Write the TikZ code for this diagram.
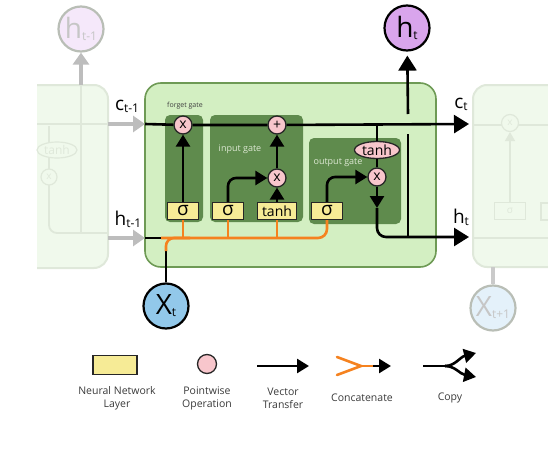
\documentclass[tikz,border=0pt]{standalone}
\usepackage{fontspec}
\setmainfont{Open Sans}
\usepackage{tikz}
\usetikzlibrary{arrows.meta,shapes.geometric}

\definecolor{cellgreen}{HTML}{D3EFC2}
\definecolor{cellborder}{HTML}{6E9A55}
\definecolor{gategreen}{HTML}{5F8B4D}
\definecolor{gatetext}{HTML}{DDE8D3}
\definecolor{layeryellow}{HTML}{F6EB96}
\definecolor{oppink}{HTML}{F8C6CC}
\definecolor{catorange}{HTML}{F5821F}
\definecolor{htviolet}{HTML}{D9A5EC}
\definecolor{xtblue}{HTML}{92C8EA}
\definecolor{ghostfill}{HTML}{F0F9EC}
\definecolor{ghostline}{HTML}{DFE8DA}
\definecolor{ghostarrow}{HTML}{BDBDBD}
\definecolor{ghosttext}{HTML}{C6C6C6}
\definecolor{legendgrey}{HTML}{3A3A3A}

\newcommand{\subtxt}[2]{#1\raisebox{-2pt}{\fontsize{12}{12}\selectfont #2}}

\tikzset{
  cellbox/.style={fill=cellgreen, draw=cellborder, line width=1.6pt, rounded corners=16pt},
  gatebox/.style={fill=gategreen, rounded corners=5pt},
  ghostbox/.style={fill=ghostfill, draw=ghostline, line width=2pt, rounded corners=14pt},
  layer/.style={rectangle, draw=black!85, line width=1.3pt, fill=layeryellow, minimum width=31pt, minimum height=17pt, inner sep=0pt, font=\fontsize{19}{19}\selectfont},
  pointop/.style={circle, draw=black!85, line width=1.3pt, fill=oppink, minimum size=18pt, inner sep=0pt, font=\fontsize{14}{14}\selectfont},
  tanhop/.style={ellipse, draw=black!85, line width=1.3pt, fill=oppink, minimum width=45pt, minimum height=17pt, inner sep=0pt, font=\fontsize{14}{14}\selectfont},
  wire/.style={line width=2.6pt},
  vec/.style={wire, -{Triangle[length=12pt,width=14pt]}},
  bigvec/.style={wire, -{Triangle[length=15pt,width=18pt]}},
  concat/.style={line width=2.6pt, draw=catorange},
  ghostwire/.style={line width=1.8pt, draw=ghostline},
  greyvec/.style={line width=3.5pt, draw=ghostarrow, -{Triangle[length=12pt,width=16pt]}},
  tensor/.style={circle, line width=2.2pt, minimum size=45pt, inner sep=0pt, font=\fontsize{28}{28}\selectfont},
  sidetext/.style={inner sep=0pt, font=\fontsize{19}{19}\selectfont},
  legendtext/.style={inner sep=0pt, font=\fontsize{10.5}{13}\selectfont, text=legendgrey, align=center},
}

\begin{document}
\begin{tikzpicture}[x=1pt,y=1pt,yscale=-1]
\useasboundingbox (0,0) rectangle (548,452);

%Shape: ghost cell left
\draw[ghostbox] (37,85) -- (108,85) -- (108,268) -- (37,268);
\draw[ghostwire] (37,124) -- (108,124);
\draw[ghostwire, rounded corners=8pt] (49,126) -- (49,233) -- (108,233);
\draw[ghostwire] (81,85) -- (81,233);
\node[ellipse, draw=ghostline, line width=1.2pt, fill=ghostfill, minimum width=40pt, minimum height=16pt, inner sep=0pt, text=ghostline, font=\fontsize{12}{12}\selectfont] (gtanh) at (57,150) {tanh};
\node[circle, draw=ghostline, line width=1.2pt, fill=ghostfill, minimum size=16pt, inner sep=0pt, text=ghostline] (gmul) at (49,177) {x};

%Shape: ghost cell right
\draw[ghostbox] (548,85) -- (473,85) -- (473,267) -- (548,267);
\draw[ghostwire] (473,125) -- (548,125);
\draw[ghostwire] (473,238) -- (548,238);
\node[circle, draw=ghostline, line width=1.2pt, fill=ghostfill, minimum size=17pt, inner sep=0pt, text=ghostline] (nmul) at (510,123) {x};
\node[rectangle, draw=ghostline, line width=1.2pt, fill=ghostfill, minimum width=31pt, minimum height=17pt, inner sep=0pt, text=ghostline] (nsig) at (510,211) {σ};
\draw[ghostline, line width=1.2pt] (548,203) -- (541,203) -- (541,220) -- (548,220);
\draw[ghostwire, -{Triangle[length=9pt,width=10pt]}] (nsig) -- (nmul);

%Shape: main cell
\draw[cellbox] (145,83) rectangle (436,267);

%Shape: gate panels
\fill[gatebox] (165,115) rectangle (203,222);
\fill[gatebox] (210,115) rectangle (303,222);
\fill[gatebox] (309,138) rectangle (401,224);

% Text Node
\node[inner sep=0pt, font=\fontsize{7}{7}\selectfont, text=black!75] (fgtext) at (185,106) {forget gate};
% Text Node
\node[inner sep=0pt, font=\fontsize{9}{9}\selectfont, text=gatetext] (igtext) at (240,149) {input gate};
% Text Node
\node[inner sep=0pt, font=\fontsize{9}{9}\selectfont, text=gatetext] (ogtext) at (338,163) {output gate};

%Shape: pointwise operations
\node[pointop] (fmul) at (183,125) {x};
\node[pointop] (cadd) at (277,125) {+};
\node[pointop] (imul) at (277,178) {x};
\node[pointop] (omul) at (377,177) {x};
\node[tanhop] (otanh) at (377,150) {tanh};

%Shape: layers
\node[layer] (fsig) at (183,211) {σ};
\node[layer] (isig) at (228,211) {σ};
\node[layer, minimum width=39pt, font=\fontsize{14}{14}\selectfont] (itanh) at (277,211) {tanh};
\node[layer] (osig) at (327,211) {σ};

%Shape: tensors
\node[tensor, draw=black, fill=htviolet] (ht) at (407,28) {\subtxt{h}{t}};
\node[tensor, draw=black, fill=xtblue] (xt) at (166,306) {\subtxt{X}{t}};
\node[tensor, draw=ghostline!60!gray, fill=htviolet!25, text=ghosttext] (hprevc) at (81,29) {\subtxt{h}{t-1}};
\node[tensor, draw=ghostline!60!gray, fill=xtblue!25, text=ghosttext] (xnext) at (493,308) {\subtxt{X}{t+1}};

\coordinate (cin) at (145,124);
\coordinate (cout) at (469,124);
\coordinate (hin) at (145,238);
\coordinate (catstart) at (161,238);
\coordinate (xturn) at (166,251);
\coordinate (cjoin) at (377,124);
\coordinate (odown) at (377,208);
\coordinate (hout) at (469,237);
\coordinate (hjoin) at (408,237);
\coordinate (hgapb) at (408,134);
\coordinate (hgapt) at (408,114);

%Straight Lines: grey inputs
\draw[greyvec] (81,85) -- (hprevc);
\draw[greyvec] (108,124) -- (cin);
\draw[greyvec] (108,238) -- (hin);
\draw[line width=3.5pt, draw=ghostarrow!80] (xnext) -- (493,267);

%Straight Lines: cell state
\draw[bigvec] (cin) -- (fmul) -- (cadd) -- (cout);
\draw[wire] (cjoin) -- (otanh);
\draw[wire] (otanh) -- (omul);

%Straight Lines: gates
\draw[vec] (fsig) -- (fmul);
\draw[vec, rounded corners=8pt] (isig.north) |- (imul.west);
\draw[vec] (itanh) -- (imul);
\draw[vec] (imul) -- (cadd);
\draw[vec, rounded corners=8pt] (osig.north) |- (omul.west);
\draw[vec] (omul) -- (odown);

%Straight Lines: hidden output
\draw[bigvec, rounded corners=9pt] (odown) |- (hout);
\draw[wire] (hjoin) -- (hgapb);
\draw[bigvec, shorten >=4pt] (hgapt) -- (ht);

%Straight Lines: concatenated inputs
\draw[wire] (hin) -- (catstart);
\draw[wire] (xt) -- (xturn);
\draw[concat, rounded corners=9pt] (catstart) -| (osig.south);
\draw[concat, rounded corners=8pt] (xturn) |- (190,238);
\draw[concat] (fsig.south) -- (fsig.south |- hin);
\draw[concat] (isig.south) -- (isig.south |- hin);
\draw[concat] (itanh.south) -- (itanh.south |- hin);

% Text Node
\node[sidetext] (ctprev) at (127,106) {\subtxt{c}{t-1}};
\node[sidetext] (htprev) at (128,219) {\subtxt{h}{t-1}};
\node[sidetext] (ctlbl) at (461,104) {\subtxt{c}{t}};
\node[sidetext] (htlbl) at (461,217) {\subtxt{h}{t}};

%Legend
\node[layer, minimum width=44pt, minimum height=19pt] (lglayer) at (115,365) {};
\node[pointop, minimum size=19pt] (lgpoint) at (207,364) {};
\coordinate (vtA) at (257,366);
\coordinate (vtB) at (309,366);
\draw[vec] (vtA) -- (vtB);
\coordinate (caU) at (337,357);
\coordinate (caD) at (337,375);
\coordinate (caM) at (361,366);
\coordinate (caJ) at (373,366);
\coordinate (caE) at (391,366);
\draw[concat, line cap=round] (caU) -- (caM) -- (caD);
\draw[concat] (caM) -- (caJ);
\draw[vec] (caJ) -- (caE);
\coordinate (cpA) at (423,366);
\coordinate (cpM) at (445,366);
\coordinate (cpU) at (476,353);
\coordinate (cpD) at (476,377);
\draw[wire] (cpA) -- (cpM);
\draw[vec] (cpM) .. controls (455,366) and (460,357) .. (cpU);
\draw[vec] (cpM) .. controls (455,366) and (460,374) .. (cpD);

% Text Node
\node[legendtext] (lgt1) at (117,398) {Neural Network\\Layer};
\node[legendtext] (lgt2) at (207,398) {Pointwise\\Operation};
\node[legendtext] (lgt3) at (283,398) {Vector\\Transfer};
\node[legendtext] (lgt4) at (362,398) {Concatenate};
\node[legendtext] (lgt5) at (450,398) {Copy};

\end{tikzpicture}
\end{document}
